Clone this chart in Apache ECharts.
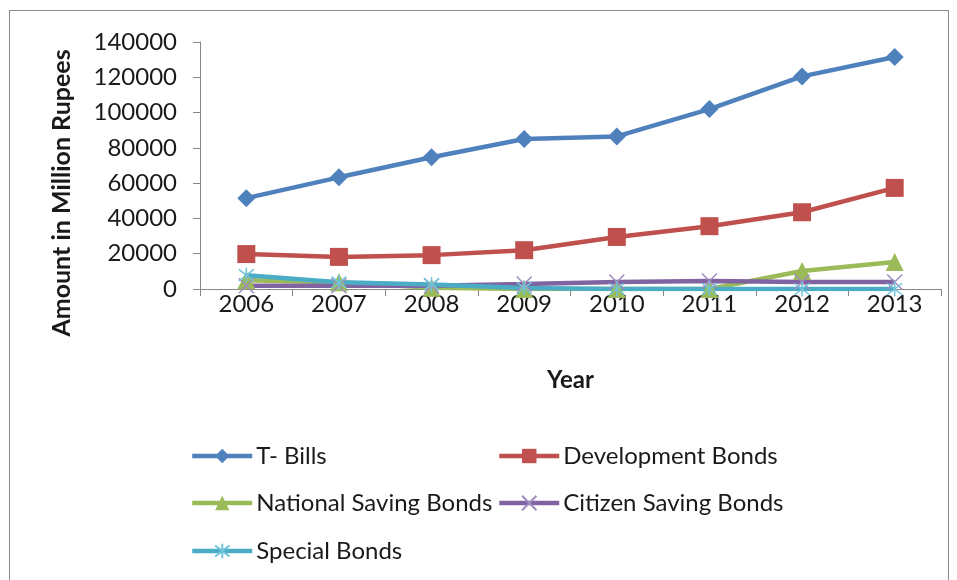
<!DOCTYPE html>
<html>
<head>
<meta charset="utf-8">
<script src="https://cdn.jsdelivr.net/npm/echarts@6/dist/echarts.min.js"></script>
<style>
  html, body { margin: 0; padding: 0; background: #fff; }
  #frame { position: absolute; left: 9px; top: 10px; width: 940px; height: 580px; border: 1.5px solid #8a8a8a; box-sizing: border-box; }
  #chart { position: absolute; left: 0; top: 0; width: 957px; height: 580px; }
</style>
</head>
<body>
<div id="frame"></div>
<div id="chart"></div>
<script>
// Government securities outstanding, million rupees
const years = ['2006', '2007', '2008', '2009', '2010', '2011', '2012', '2013'];
const tBills = [51500, 63300, 74700, 85000, 86500, 102000, 120500, 131500];
const developmentBonds = [19800, 18200, 19200, 22000, 29500, 35600, 43500, 57300];
const nationalSavingBonds = [5000, 3800, 700, 0, 0, 0, 10200, 15300];
const citizenSavingBonds = [1800, 1800, 1800, 2800, 4000, 4500, 4000, 4000];
const specialBonds = [7800, 3800, 2600, 600, 0, 0, 0, 0];
const yTicks = [0, 20000, 40000, 60000, 80000, 100000, 120000, 140000];

const FONT = 'Lato';
const axisGray = '#868686';

const xMark = 'path://M0,0L10,10M10,0L0,10';
const starMark = 'path://M0,0L10,10M10,0L0,10M5,-1.5L5,11.5';

function lineSeries(name, data, color, symbol, size, mark) {
  const s = {
    name: name,
    type: 'line',
    data: data,
    symbol: symbol,
    symbolSize: size,
    showAllSymbol: true,
    lineStyle: { color: color, width: 4.5 },
    itemStyle: { color: color },
    emphasis: { disabled: true },
    animation: false
  };
  if (mark) {
    s.itemStyle = { color: 'none', borderColor: mark, borderWidth: 1.5 };
  }
  return s;
}

const chart = echarts.init(document.getElementById('chart'), null, { renderer: 'canvas' });

function legendAt(name, left, top) {
  return {
    data: [name],
    left: left,
    top: top,
    padding: 0,
    itemWidth: 60,
    itemHeight: 18,
    itemGap: 0,
    selectedMode: false,
    lineStyle: { width: 4.5 },
    textStyle: { fontFamily: FONT, fontSize: 24, color: '#1a1a1a', padding: [0, 0, 0, -1] }
  };
}

chart.setOption({
  backgroundColor: 'transparent',
  grid: { left: 200, right: 16, top: 42, bottom: 291, containLabel: false },
  xAxis: {
    type: 'category',
    data: years,
    boundaryGap: true,
    axisLine: { show: true, lineStyle: { color: axisGray, width: 1 } },
    axisTick: { show: true, length: 7, interval: 0, lineStyle: { color: axisGray } },
    axisLabel: { margin: 3, fontFamily: FONT, fontSize: 24, color: '#1a1a1a' },
    name: 'Year',
    nameLocation: 'middle',
    nameGap: 79,
    nameTextStyle: { fontFamily: FONT, fontSize: 24, fontWeight: 'bold', color: '#1a1a1a' }
  },
  yAxis: {
    type: 'value',
    min: yTicks[0],
    max: yTicks[yTicks.length - 1],
    interval: 20000,
    splitLine: { show: false },
    axisLine: { show: true, lineStyle: { color: axisGray, width: 1 } },
    axisTick: { show: true, length: 7, lineStyle: { color: axisGray } },
    axisLabel: { margin: 23, fontFamily: FONT, fontSize: 24, color: '#1a1a1a', formatter: v => String(v) }
  },
  graphic: [{
    type: 'text',
    x: 62,
    y: 193,
    rotation: Math.PI / 2,
    style: {
      text: 'Amount in Million Rupees',
      font: 'bold 25px ' + FONT,
      fill: '#1a1a1a',
      align: 'center',
      verticalAlign: 'middle'
    }
  }],
  legend: [
    legendAt('T- Bills', 190, 444),
    legendAt('Development Bonds', 497, 444),
    legendAt('National Saving Bonds', 190, 491),
    legendAt('Citizen Saving Bonds', 497, 491),
    legendAt('Special Bonds', 190, 539)
  ],
  series: [
    lineSeries('T- Bills', tBills, '#4F81BD', 'diamond', 18),
    lineSeries('Development Bonds', developmentBonds, '#C0504D', 'rect', 18),
    lineSeries('National Saving Bonds', nationalSavingBonds, '#9BBB59', 'triangle', 18),
    lineSeries('Citizen Saving Bonds', citizenSavingBonds, '#8064A2', xMark, 15, '#9E8BC0'),
    lineSeries('Special Bonds', specialBonds, '#4BACC6', starMark, 15, '#6FC3DA')
  ]
});
</script>
</body>
</html>
